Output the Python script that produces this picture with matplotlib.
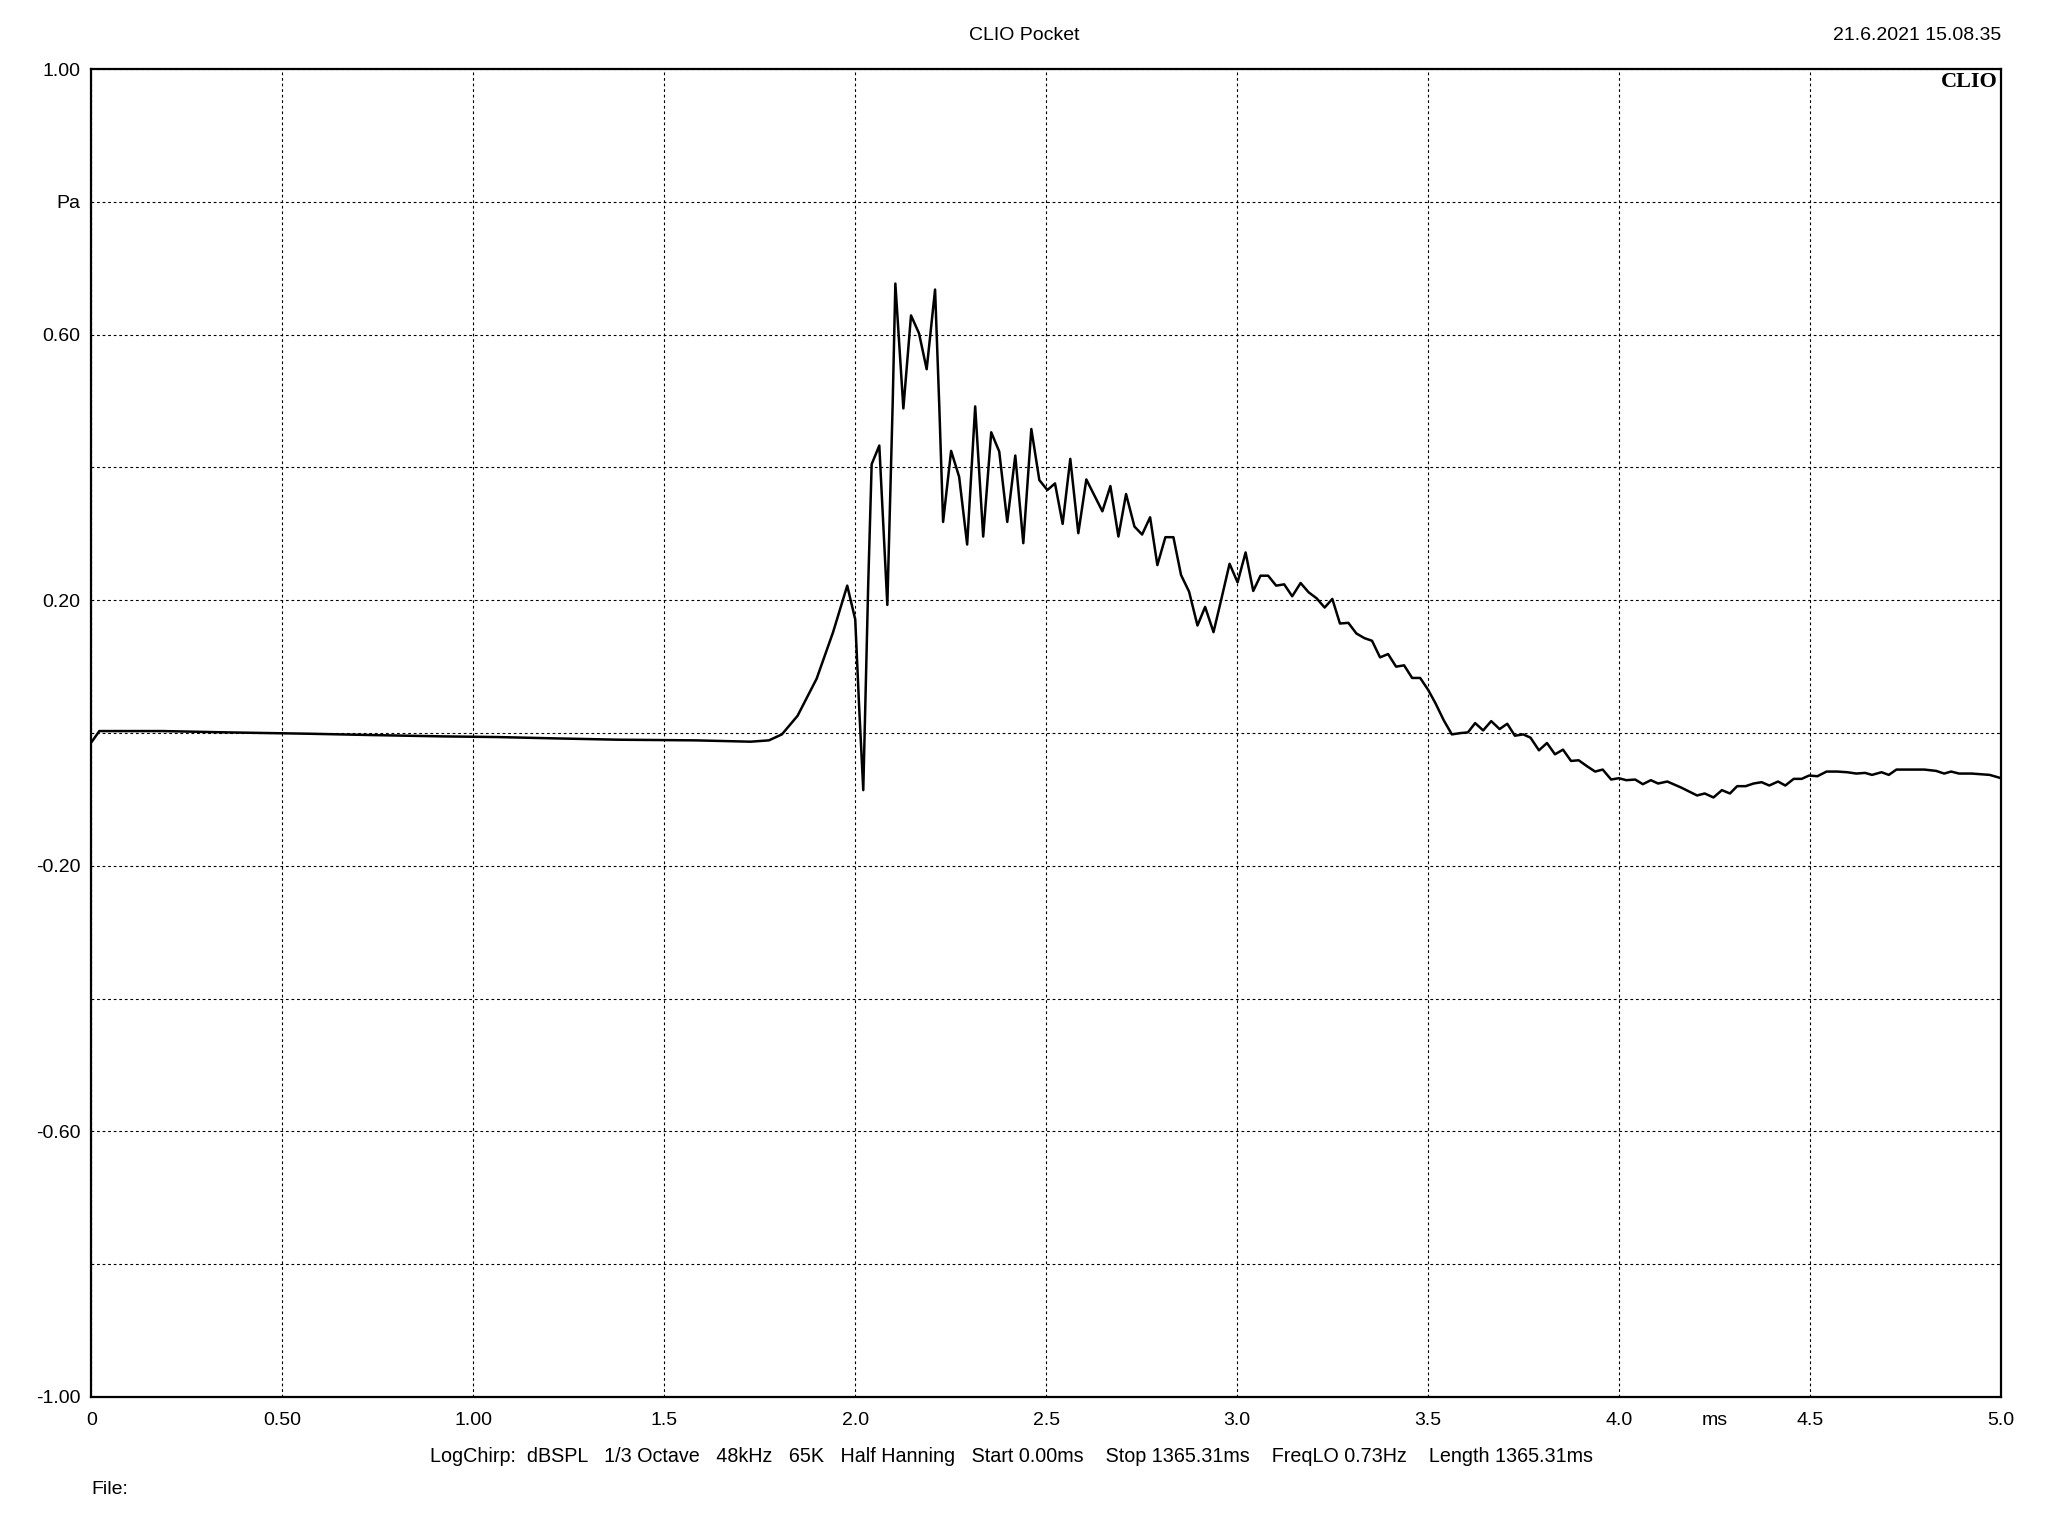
import matplotlib
import matplotlib.pyplot as plt

matplotlib.use('Agg')

plt.rcParams['font.family'] = ['Liberation Sans', 'DejaVu Sans']

# impulse response (time in ms, pressure in Pa)
time_ms = [
    0.000, 0.021, 0.055, 0.186, 0.356, 0.568, 0.733, 0.918, 1.062, 1.212,
    1.377, 1.582, 1.726, 1.774, 1.808, 1.849, 1.899, 1.942, 1.979, 2.000,
    2.010, 2.021, 2.034, 2.043, 2.063, 2.084, 2.098, 2.105, 2.126, 2.146,
    2.167, 2.187, 2.209, 2.220, 2.230, 2.251, 2.272, 2.293, 2.314, 2.335,
    2.356, 2.377, 2.398, 2.419, 2.440, 2.461, 2.482, 2.503, 2.523, 2.543,
    2.563, 2.584, 2.605, 2.647, 2.668, 2.689, 2.709, 2.731, 2.751, 2.772,
    2.791, 2.812, 2.833, 2.853, 2.874, 2.896, 2.916, 2.938, 2.959, 2.980,
    3.001, 3.022, 3.042, 3.061, 3.081, 3.102, 3.123, 3.144, 3.166, 3.187,
    3.208, 3.229, 3.249, 3.269, 3.291, 3.312, 3.333, 3.353, 3.374, 3.395,
    3.416, 3.437, 3.458, 3.479, 3.500, 3.519, 3.541, 3.562, 3.585, 3.604,
    3.623, 3.644, 3.665, 3.687, 3.707, 3.727, 3.749, 3.768, 3.790, 3.811,
    3.832, 3.853, 3.874, 3.894, 3.916, 3.937, 3.957, 3.979, 3.999, 4.019,
    4.042, 4.062, 4.083, 4.102, 4.126, 4.162, 4.204, 4.224, 4.247, 4.269,
    4.290, 4.309, 4.331, 4.352, 4.373, 4.393, 4.416, 4.435, 4.457, 4.478,
    4.497, 4.519, 4.543, 4.571, 4.597, 4.621, 4.644, 4.662, 4.687, 4.706,
    4.726, 4.799, 4.830, 4.851, 4.869, 4.890, 4.923, 4.970, 5.000,
]
pressure_pa = [
    -0.014, 0.003, 0.003, 0.003, 0.001, -0.001, -0.003, -0.005, -0.006, -0.008,
    -0.010, -0.011, -0.013, -0.011, -0.002, 0.026, 0.082, 0.152, 0.222, 0.171,
    0.042, -0.086, 0.225, 0.405, 0.433, 0.193, 0.496, 0.677, 0.489, 0.629,
    0.602, 0.548, 0.668, 0.493, 0.318, 0.425, 0.386, 0.284, 0.492, 0.296,
    0.453, 0.424, 0.318, 0.418, 0.286, 0.458, 0.381, 0.366, 0.376, 0.315,
    0.413, 0.301, 0.382, 0.334, 0.372, 0.296, 0.360, 0.311, 0.299, 0.325,
    0.253, 0.295, 0.295, 0.238, 0.213, 0.162, 0.190, 0.152, 0.203, 0.255,
    0.227, 0.272, 0.214, 0.237, 0.237, 0.222, 0.224, 0.206, 0.226, 0.212,
    0.203, 0.189, 0.202, 0.165, 0.166, 0.150, 0.143, 0.139, 0.114, 0.119,
    0.100, 0.102, 0.083, 0.083, 0.065, 0.045, 0.019, -0.002, 0.000, 0.001,
    0.015, 0.004, 0.018, 0.006, 0.014, -0.004, -0.002, -0.007, -0.026, -0.015,
    -0.032, -0.025, -0.042, -0.041, -0.050, -0.058, -0.055, -0.070, -0.068, -0.071,
    -0.070, -0.077, -0.071, -0.076, -0.073, -0.082, -0.094, -0.091, -0.097, -0.086,
    -0.091, -0.080, -0.080, -0.076, -0.074, -0.079, -0.073, -0.079, -0.069, -0.069,
    -0.064, -0.065, -0.058, -0.058, -0.059, -0.061, -0.060, -0.063, -0.059, -0.063,
    -0.055, -0.055, -0.057, -0.061, -0.058, -0.061, -0.061, -0.063, -0.068,
]

x_ticks = [0, 0.5, 1.0, 1.5, 2.0, 2.5, 3.0, 3.5, 4.0, 4.5, 5.0]
x_labels = ['0', '0.50', '1.00', '1.5', '2.0', '2.5', '3.0', '3.5', '4.0', '4.5', '5.0']
y_ticks = [1.0, 0.8, 0.6, 0.4, 0.2, 0.0, -0.2, -0.4, -0.6, -0.8, -1.0]
y_labels = ['1.00', 'Pa', '0.60', '', '0.20', '', '-0.20', '', '-0.60', '', '-1.00']

info_line = ('LogChirp:  dBSPL   1/3 Octave   48kHz   65K   Half Hanning   '
             'Start 0.00ms    Stop 1365.31ms    FreqLO 0.73Hz    Length 1365.31ms')

fig = plt.figure(figsize=(20.48, 15.36), dpi=100)
ax = fig.add_axes([0.0446, 0.0905, 0.9325, 0.8645])

ax.plot(time_ms, pressure_pa, color='black', linewidth=1.8)

ax.set_xlim(0, 5)
ax.set_ylim(-1, 1)
ax.set_xticks(x_ticks)
ax.set_xticklabels(x_labels)
ax.set_yticks(y_ticks)
ax.set_yticklabels(y_labels)
ax.tick_params(length=0, labelsize=14)
ax.tick_params(axis='x', pad=11)
ax.tick_params(axis='y', pad=8)
ax.grid(True, color='black', linestyle=(0, (2.5, 2.5)), linewidth=0.8)
for spine in ax.spines.values():
    spine.set_linewidth(1.6)

# "ms" unit sits between 4.0 and 4.5 on the x axis
ax.annotate('ms', xy=(4.25, 0), xycoords=('data', 'axes fraction'),
            xytext=(0, -11), textcoords='offset points', ha='center', va='top',
            fontsize=14)

ax.text(0.9985, 0.998, 'CLIO', transform=ax.transAxes, ha='right', va='top',
        fontsize=16, fontweight='bold', family='Liberation Serif')

fig.text(0.5, 0.977, 'CLIO Pocket', ha='center', va='center', fontsize=14)
fig.text(0.977, 0.977, '21.6.2021 15.08.35', ha='right', va='center', fontsize=14)
fig.text(0.494, 0.052, info_line, ha='center', va='center', fontsize=14.2)
fig.text(0.0446, 0.030, 'File:', ha='left', va='center', fontsize=14)

fig.savefig('out.png', dpi=100, facecolor='white')
